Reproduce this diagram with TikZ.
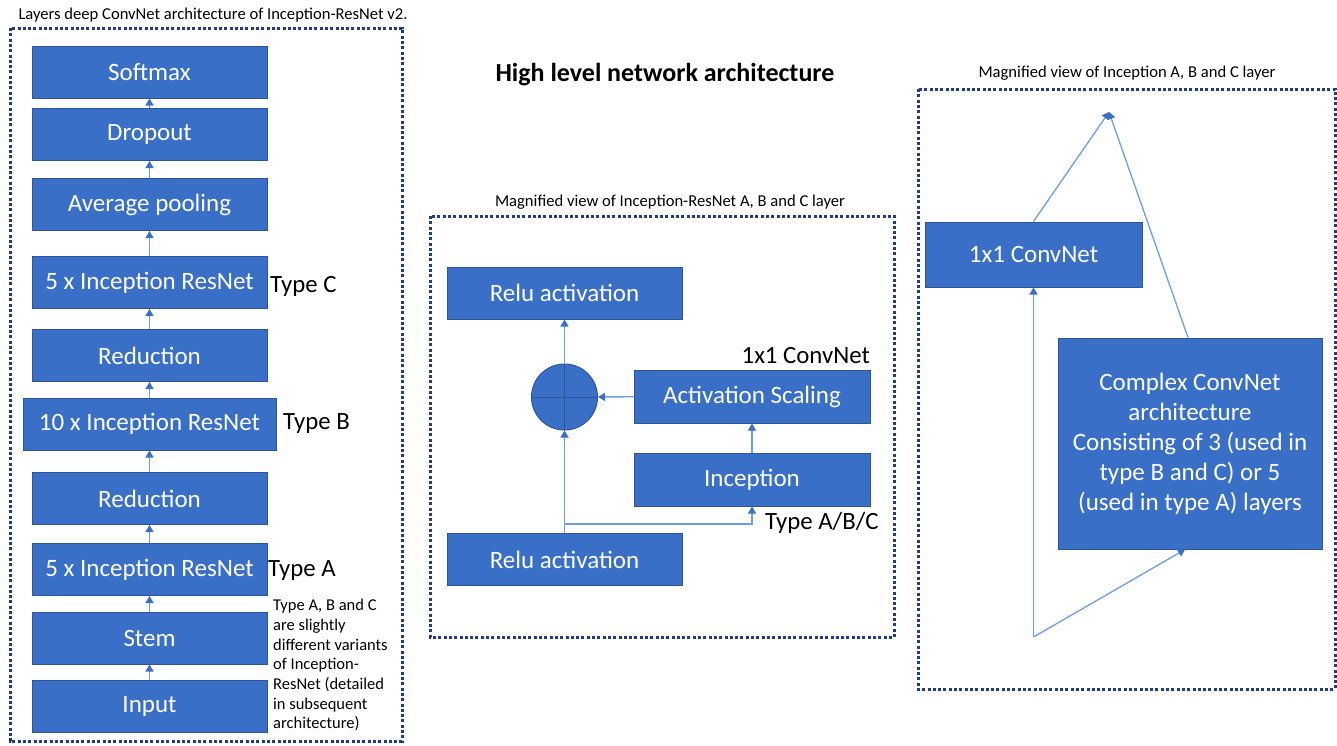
\documentclass[tikz,border=0pt]{standalone}
\usepackage{fontspec}
\setmainfont{Carlito}
\usetikzlibrary{arrows.meta}

\definecolor{boxblue}{HTML}{3A6FC8}
\definecolor{boxedge}{HTML}{2F5597}
\definecolor{linkblue}{HTML}{6F9DE0}
\definecolor{headblue}{HTML}{3A6FC8}
\definecolor{frameblue}{HTML}{1F3C88}

\tikzset{
  layer/.style={draw=boxedge, line width=1pt, fill=boxblue, text=white,
    font=\fontsize{25}{30}\selectfont, inner sep=0pt, align=center},
  link/.style={draw=linkblue, line width=1.3pt,
    -{Triangle[width=8pt,length=7pt,color=headblue]}},
  frame/.style={draw=frameblue, line width=3pt, dash pattern=on 3pt off 2.3pt},
  caption/.style={font=\fontsize{16.6}{20}\selectfont, inner sep=0pt},
  tag/.style={font=\fontsize{24.8}{30}\selectfont, inner sep=0pt, anchor=west},
  note/.style={font=\fontsize{16.5}{19.7}\selectfont, inner sep=0pt, align=left, anchor=north west},
}

\begin{document}
\begin{tikzpicture}[x=1pt, y=-1pt]
\useasboundingbox (0,0) rectangle (1337,745);

% ---------- left panel: full network stack ----------
\node[caption] (lefttitle) at (213,15) {Layers deep ConvNet architecture of Inception-ResNet v2.};
\draw[frame] (10,28) rectangle (402,741);

\node[layer, minimum width=235, minimum height=52] (softmax) at (149.5,72) {Softmax};
\node[layer, minimum width=235, minimum height=52] (dropout) at (149.5,134.5) {Dropout};
\node[layer, minimum width=235, minimum height=52] (avgpool) at (149.5,204.5) {Average pooling};
\node[layer, minimum width=235, minimum height=52] (incC) at (149.5,282.5) {5 x Inception ResNet};
\node[layer, minimum width=235, minimum height=52] (redB) at (149.5,355.5) {Reduction};
\node[layer, minimum width=253, minimum height=52] (incB) at (149.5,424) {10 x Inception ResNet};
\node[layer, minimum width=235, minimum height=52] (redA) at (149.5,498.5) {Reduction};
\node[layer, minimum width=235, minimum height=52] (incA) at (149.5,569.5) {5 x Inception ResNet};
\node[layer, minimum width=235, minimum height=52] (stem) at (149.5,638) {Stem};
\node[layer, minimum width=235, minimum height=52] (input) at (149.5,706.5) {Input};

\draw[link] (input) -- (stem);
\draw[link] (stem) -- (incA);
\draw[link] (incA) -- (redA);
\draw[link] (redA) -- (incB);
\draw[link] (incB) -- (redB);
\draw[link] (redB) -- (incC);
\draw[link] (incC) -- (avgpool);
\draw[link] (avgpool) -- (dropout);
\draw[link] (dropout) -- (softmax);

\node[tag] (typeC) at (270,286) {Type C};
\node[tag] (typeB) at (283,424) {Type B};
\node[tag] (typeA) at (268,571) {Type A};
\node[note] (variants) at (273,599) {Type A, B and C\\are slightly\\different variants\\of Inception-\\ResNet (detailed\\in subsequent\\architecture)};

% ---------- centre panel: residual block ----------
\node[font=\bfseries\fontsize{26}{31}\selectfont, inner sep=0pt] (maintitle) at (665,75) {High level network architecture};
\node[caption] (midtitle) at (670,202) {Magnified view of Inception-ResNet A, B and C layer};
\draw[frame] (430,216) rectangle (894,637);

\node[layer, minimum width=235, minimum height=52] (reluout) at (564.5,293) {Relu activation};
\node[layer, minimum width=235, minimum height=52] (reluin) at (564.5,559.5) {Relu activation};
\node[layer, minimum width=236, minimum height=53] (scale) at (752,396.5) {Activation Scaling};
\node[layer, minimum width=236, minimum height=53] (incep) at (752,479.5) {Inception};
\node[draw=boxedge, line width=1pt, fill=boxblue, circle, minimum size=66, inner sep=0pt] (sum) at (564.5,397) {};
\draw[boxedge, line width=1pt] (sum.north) -- (sum.south) (sum.west) -- (sum.east);

\coordinate (fork) at (564.5,524);
\draw[link] (reluin) -- (sum);
\draw[link] (fork) -| (incep);
\draw[link] (incep) -- (scale);
\draw[link] (scale) -- (sum);
\draw[link] (sum) -- (reluout);

\node[tag, anchor=east] (conv1label) at (870,356) {1x1 ConvNet};
\node[tag] (typeABC) at (765,523) {Type A/B/C};

% ---------- right panel: inception branches ----------
\node[caption] (righttitle) at (1127,73) {Magnified view of Inception A, B and C layer};
\draw[frame] (918,89) rectangle (1335,689);

\node[layer, minimum width=217, minimum height=65] (conv1) at (1033.5,254.5) {1x1 ConvNet};
\node[layer, minimum width=264, minimum height=211] (complex) at (1190,443.5)
  {Complex ConvNet\\architecture\\Consisting of 3 (used in\\type B and C) or 5\\(used in type A) layers};

\coordinate (split) at (1033.5,637);
\coordinate (merge) at (1109,112);
\draw[link] (split) -- (conv1.south);
\draw[link] (split) -- ([xshift=-5pt]complex.south);
\draw[link] (conv1.north) -- (merge);
\draw[link] ([xshift=-2pt]complex.north) -- (merge);
\end{tikzpicture}
\end{document}
